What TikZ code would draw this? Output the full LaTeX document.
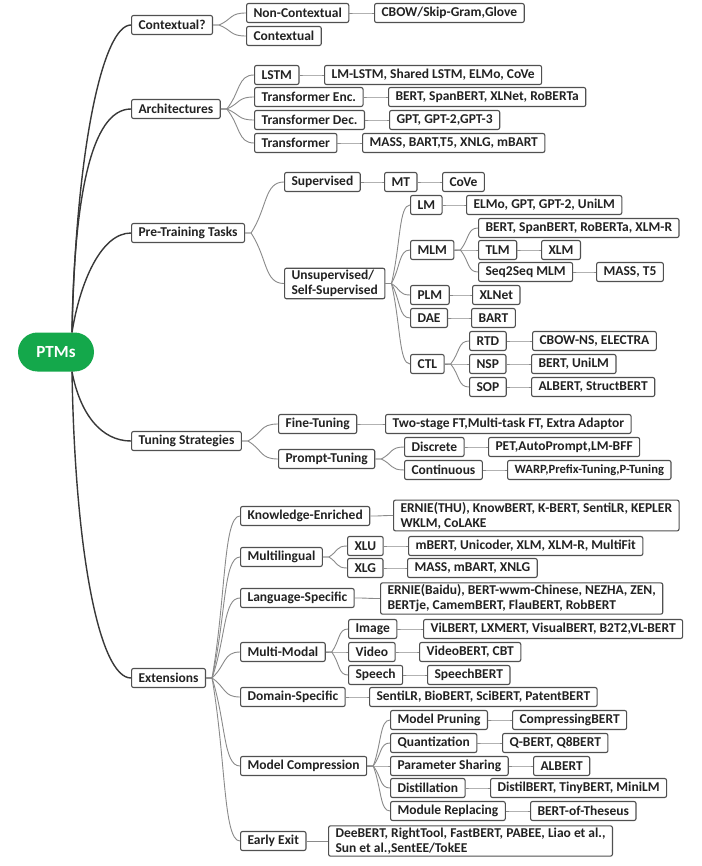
\documentclass[tikz,border=0pt]{standalone}
\usepackage{fontspec}
\setmainfont{Carlito}
\usetikzlibrary{calc}
\definecolor{txt}{HTML}{222222}
\definecolor{boxc}{HTML}{505050}
\definecolor{brc}{HTML}{8A8A8A}
\definecolor{trc}{HTML}{383838}
\definecolor{rootg}{HTML}{14A84B}
\newcommand\lnk[2]{\draw[br] (#1.east) -- ++(6pt,0) coordinate (f) .. controls ($(f)!0.5!(#2.west)$) and ($(#2.west)!0.6!(f|-#2.west)$) .. (#2.west);}
\begin{document}
\begin{tikzpicture}[x=1pt,y=-1pt,
  box/.style={draw=boxc, line width=1.1pt, rounded corners=2pt, fill=white, anchor=west,
    minimum height=19pt, inner xsep=7pt, inner ysep=2pt,
    font=\bfseries\fontsize{13.5}{15}\selectfont, text=txt, align=left},
  br/.style={draw=brc, line width=0.9pt},
  trunk/.style={draw=trc, line width=1.4pt}]
\useasboundingbox[fill=white] (0,0) rectangle (701,866);

% root
\node[fill=rootg, rounded corners=19.5pt, minimum width=76pt, minimum height=39pt, text=white,
  font=\bfseries\fontsize{17}{19}\selectfont] (root) at (56,352) {PTMs};

% level 2
\node[box] (ctx) at (131,25) {Contextual?};
\node[box] (arch) at (131,109) {Architectures};
\node[box] (ptt) at (131,233) {Pre-Training Tasks};
\node[box] (tun) at (131,441) {Tuning Strategies};
\node[box] (ext) at (131,678) {Extensions};

% Contextual
\node[box] (nonctx) at (246,13) {Non-Contextual};
\node[box] (contx) at (246,36) {Contextual};
\node[box] (cbow) at (374,13) {CBOW/Skip-Gram,Glove};

% Architectures
\node[box] (lstm) at (254,75) {LSTM};
\node[box] (lstmx) at (324,75) {LM-LSTM, Shared LSTM, ELMo, CoVe};
\node[box] (tenc) at (254,97) {Transformer Enc.};
\node[box] (tencx) at (388,97) {BERT, SpanBERT, XLNet, RoBERTa};
\node[box] (tdec) at (254,120) {Transformer Dec.};
\node[box] (tdecx) at (389,120) {GPT, GPT-2,GPT-3};
\node[box] (tfm) at (254,143) {Transformer};
\node[box] (tfmx) at (362,143) {MASS, BART,T5, XNLG, mBART};

% Pre-training tasks
\node[box] (sup) at (284,182) {Supervised};
\node[box] (mt) at (384,182) {MT};
\node[box] (cove) at (442,182) {CoVe};
\node[box] (uns) at (284,283.5) {Unsupervised/\\Self-Supervised};
\node[box] (lm) at (410,205) {LM};
\node[box] (lmx) at (466,205) {ELMo, GPT, GPT-2, UniLM};
\node[box] (mlm) at (410,250) {MLM};
\node[box] (mlmx) at (478,228) {BERT, SpanBERT, RoBERTa, XLM-R};
\node[box] (tlm) at (478,250) {TLM};
\node[box] (xlm) at (541,250) {XLM};
\node[box] (s2s) at (478,272) {Seq2Seq MLM};
\node[box] (mass) at (596,272) {MASS, T5};
\node[box] (plm) at (410,295) {PLM};
\node[box] (xlnet) at (472,295) {XLNet};
\node[box] (dae) at (410,318) {DAE};
\node[box] (bart) at (471,318) {BART};
\node[box] (ctl) at (410,364) {CTL};
\node[box] (rtd) at (469,341) {RTD};
\node[box] (rtdx) at (532,341) {CBOW-NS, ELECTRA};
\node[box] (nsp) at (469,364) {NSP};
\node[box] (nspx) at (531,364) {BERT, UniLM};
\node[box] (sop) at (469,387) {SOP};
\node[box] (sopx) at (531,387) {ALBERT, StructBERT};

% Tuning strategies
\node[box] (ft) at (278,424) {Fine-Tuning};
\node[box] (ftx) at (385,424) {Two-stage FT,Multi-task FT, Extra Adaptor};
\node[box] (pt) at (278,459) {Prompt-Tuning};
\node[box] (disc) at (404,447) {Discrete};
\node[box] (discx) at (488,447) {PET,AutoPrompt,LM-BFF};
\node[box] (cont) at (404,470) {Continuous};
\node[box, font=\bfseries\fontsize{12.6}{15}\selectfont] (contx2) at (507,470) {WARP,Prefix-Tuning,P-Tuning};

% Extensions
\node[box] (ke) at (240,516) {Knowledge-Enriched};
\node[box] (kex) at (393,515.5) {ERNIE(THU), KnowBERT, K-BERT, SentiLR, KEPLER\\WKLM, CoLAKE};
\node[box] (ml) at (240,557) {Multilingual};
\node[box] (xlu) at (347,546) {XLU};
\node[box] (xlux) at (408,546) {mBERT, Unicoder, XLM, XLM-R, MultiFit};
\node[box] (xlg) at (347,568) {XLG};
\node[box] (xlgx) at (407,568) {MASS, mBART, XNLG};
\node[box] (ls) at (240,598) {Language-Specific};
\node[box] (lsx) at (380,598.5) {ERNIE(Baidu), BERT-wwm-Chinese, NEZHA, ZEN,\\BERTje, CamemBERT, FlauBERT, RobBERT};
\node[box] (mm) at (240,652) {Multi-Modal};
\node[box] (img) at (348,629) {Image};
\node[box] (imgx) at (423,629) {ViLBERT, LXMERT, VisualBERT, B2T2,VL-BERT};
\node[box] (vid) at (348,652) {Video};
\node[box] (vidx) at (419,652) {VideoBERT, CBT};
\node[box] (sp) at (348,675) {Speech};
\node[box] (spx) at (427,675) {SpeechBERT};
\node[box] (ds) at (240,697) {Domain-Specific};
\node[box] (dsx) at (369,697) {SentiLR, BioBERT, SciBERT, PatentBERT};
\node[box] (mc) at (240,766) {Model Compression};
\node[box] (mp) at (390,720) {Model Pruning};
\node[box] (mpx) at (512,720) {CompressingBERT};
\node[box] (qz) at (390,743) {Quantization};
\node[box] (qzx) at (502,743) {Q-BERT, Q8BERT};
\node[box] (ps) at (390,766) {Parameter Sharing};
\node[box] (psx) at (533,766) {ALBERT};
\node[box] (dist) at (390,788) {Distillation};
\node[box] (distx) at (490,788) {DistilBERT, TinyBERT, MiniLM};
\node[box] (mr) at (390,811) {Module Replacing};
\node[box] (mrx) at (530,811) {BERT-of-Theseus};
\node[box] (ee) at (240,841) {Early Exit};
\node[box] (eex) at (328,841) {DeeBERT, RightTool, FastBERT, PABEE, Liao et al.,\\Sun et al.,SentEE/TokEE};

% trunks
\draw[trunk] ([xshift=16pt]root.north) .. controls +(4,-184) and +(-28,0) .. (ctx.west);
\draw[trunk] ([xshift=16pt]root.north) .. controls +(2,-134) and +(-40,0) .. (arch.west);
\draw[trunk] ([xshift=16pt]root.north) .. controls +(8,-50) and +(-30,0) .. (ptt.west);
\draw[trunk] ([xshift=16pt]root.south) .. controls +(8,42) and +(-30,0) .. (tun.west);
\draw[trunk] ([xshift=16pt]root.south) .. controls +(3,184) and +(-31,0) .. (ext.west);

% branches
\lnk{ctx}{nonctx} \lnk{ctx}{contx} \lnk{nonctx}{cbow}
\lnk{arch}{lstm} \lnk{arch}{tenc} \lnk{arch}{tdec} \lnk{arch}{tfm}
\lnk{lstm}{lstmx} \lnk{tenc}{tencx} \lnk{tdec}{tdecx} \lnk{tfm}{tfmx}
\lnk{ptt}{sup} \lnk{ptt}{uns} \lnk{sup}{mt} \lnk{mt}{cove}
\lnk{uns}{lm} \lnk{uns}{mlm} \lnk{uns}{plm} \lnk{uns}{dae} \lnk{uns}{ctl}
\lnk{lm}{lmx} \lnk{mlm}{mlmx} \lnk{mlm}{tlm} \lnk{mlm}{s2s} \lnk{tlm}{xlm} \lnk{s2s}{mass}
\lnk{plm}{xlnet} \lnk{dae}{bart}
\lnk{ctl}{rtd} \lnk{ctl}{nsp} \lnk{ctl}{sop} \lnk{rtd}{rtdx} \lnk{nsp}{nspx} \lnk{sop}{sopx}
\lnk{tun}{ft} \lnk{tun}{pt} \lnk{ft}{ftx} \lnk{pt}{disc} \lnk{pt}{cont} \lnk{disc}{discx} \lnk{cont}{contx2}
\lnk{ext}{ke} \lnk{ext}{ml} \lnk{ext}{ls} \lnk{ext}{mm} \lnk{ext}{ds} \lnk{ext}{mc} \lnk{ext}{ee}
\lnk{ke}{kex} \lnk{ml}{xlu} \lnk{ml}{xlg} \lnk{xlu}{xlux} \lnk{xlg}{xlgx} \lnk{ls}{lsx}
\lnk{mm}{img} \lnk{mm}{vid} \lnk{mm}{sp} \lnk{img}{imgx} \lnk{vid}{vidx} \lnk{sp}{spx}
\lnk{ds}{dsx}
\lnk{mc}{mp} \lnk{mc}{qz} \lnk{mc}{ps} \lnk{mc}{dist} \lnk{mc}{mr}
\lnk{mp}{mpx} \lnk{qz}{qzx} \lnk{ps}{psx} \lnk{dist}{distx} \lnk{mr}{mrx}
\lnk{ee}{eex}
\end{tikzpicture}
\end{document}
